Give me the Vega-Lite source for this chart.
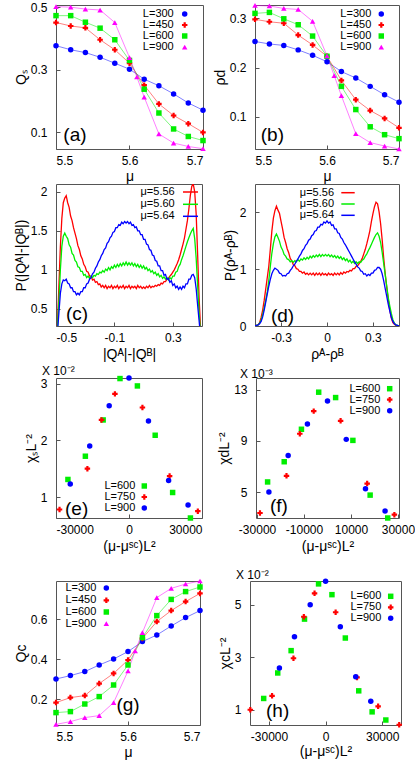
{
"$schema": "https://vega.github.io/schema/vega-lite/v6.json",
"padding": {"left": 13, "top": 0, "right": 0, "bottom": 0},
"background": "white",
"config": {
 "font": "Liberation Sans",
 "view": {"stroke": "#555", "strokeWidth": 1},
 "axis": {"grid": false, "domain": false, "tickSize": -4, "tickColor": "#555", "labelFontSize": 12, "labelColor": "#000", "titleFontSize": 14, "titleFontWeight": "normal", "titleColor": "#000", "labelFont": "Liberation Sans", "titleFont": "Liberation Sans", "labelExpr": "replace(datum.label, '−', '-')"},
 "axisX": {"labelPadding": 10, "titlePadding": 4},
 "axisY": {"labelPadding": 13, "titlePadding": 2},
 "text": {"font": "Liberation Sans", "color": "#000"},
 "title": {"font": "Liberation Sans", "fontWeight": "normal", "fontSize": 12, "anchor": "start", "frame": "group", "color": "#000"}
},
"datasets": {
 "one": [{"k": 1}],
 "qs": [
  {"x":5.50,"L":"L=300","v":0.377},{"x":5.52,"L":"L=300","v":0.364},{"x":5.54,"L":"L=300","v":0.355},{"x":5.56,"L":"L=300","v":0.340},{"x":5.58,"L":"L=300","v":0.321},{"x":5.60,"L":"L=300","v":0.302},{"x":5.62,"L":"L=300","v":0.270},{"x":5.64,"L":"L=300","v":0.249},{"x":5.66,"L":"L=300","v":0.223},{"x":5.68,"L":"L=300","v":0.194},{"x":5.70,"L":"L=300","v":0.171},
  {"x":5.50,"L":"L=450","v":0.451},{"x":5.52,"L":"L=450","v":0.440},{"x":5.54,"L":"L=450","v":0.434},{"x":5.56,"L":"L=450","v":0.396},{"x":5.58,"L":"L=450","v":0.364},{"x":5.60,"L":"L=450","v":0.321},{"x":5.62,"L":"L=450","v":0.251},{"x":5.64,"L":"L=450","v":0.191},{"x":5.66,"L":"L=450","v":0.154},{"x":5.68,"L":"L=450","v":0.128},{"x":5.70,"L":"L=450","v":0.100},
  {"x":5.50,"L":"L=600","v":0.473},{"x":5.52,"L":"L=600","v":0.473},{"x":5.54,"L":"L=600","v":0.452},{"x":5.56,"L":"L=600","v":0.433},{"x":5.58,"L":"L=600","v":0.396},{"x":5.60,"L":"L=600","v":0.330},{"x":5.62,"L":"L=600","v":0.238},{"x":5.64,"L":"L=600","v":0.162},{"x":5.66,"L":"L=600","v":0.111},{"x":5.68,"L":"L=600","v":0.087},{"x":5.70,"L":"L=600","v":0.074},
  {"x":5.50,"L":"L=900","v":0.502},{"x":5.52,"L":"L=900","v":0.500},{"x":5.54,"L":"L=900","v":0.494},{"x":5.56,"L":"L=900","v":0.491},{"x":5.58,"L":"L=900","v":0.451},{"x":5.60,"L":"L=900","v":0.339},{"x":5.61,"L":"L=900","v":0.277},{"x":5.62,"L":"L=900","v":0.213},{"x":5.64,"L":"L=900","v":0.095},{"x":5.66,"L":"L=900","v":0.066},{"x":5.68,"L":"L=900","v":0.055},{"x":5.70,"L":"L=900","v":0.048}
 ],
 "rhod": [
  {"x":5.50,"L":"L=300","v":0.253},{"x":5.52,"L":"L=300","v":0.248},{"x":5.54,"L":"L=300","v":0.245},{"x":5.56,"L":"L=300","v":0.236},{"x":5.58,"L":"L=300","v":0.225},{"x":5.60,"L":"L=300","v":0.212},{"x":5.62,"L":"L=300","v":0.192},{"x":5.64,"L":"L=300","v":0.179},{"x":5.66,"L":"L=300","v":0.162},{"x":5.68,"L":"L=300","v":0.145},{"x":5.70,"L":"L=300","v":0.130},
  {"x":5.50,"L":"L=450","v":0.298},{"x":5.52,"L":"L=450","v":0.293},{"x":5.54,"L":"L=450","v":0.290},{"x":5.56,"L":"L=450","v":0.266},{"x":5.58,"L":"L=450","v":0.246},{"x":5.60,"L":"L=450","v":0.223},{"x":5.62,"L":"L=450","v":0.174},{"x":5.64,"L":"L=450","v":0.135},{"x":5.66,"L":"L=450","v":0.113},{"x":5.68,"L":"L=450","v":0.097},{"x":5.70,"L":"L=450","v":0.078},
  {"x":5.50,"L":"L=600","v":0.310},{"x":5.52,"L":"L=600","v":0.312},{"x":5.54,"L":"L=600","v":0.299},{"x":5.56,"L":"L=600","v":0.287},{"x":5.58,"L":"L=600","v":0.264},{"x":5.60,"L":"L=600","v":0.223},{"x":5.62,"L":"L=600","v":0.162},{"x":5.64,"L":"L=600","v":0.115},{"x":5.66,"L":"L=600","v":0.080},{"x":5.68,"L":"L=600","v":0.064},{"x":5.70,"L":"L=600","v":0.056},
  {"x":5.50,"L":"L=900","v":0.326},{"x":5.52,"L":"L=900","v":0.325},{"x":5.54,"L":"L=900","v":0.320},{"x":5.56,"L":"L=900","v":0.318},{"x":5.58,"L":"L=900","v":0.294},{"x":5.60,"L":"L=900","v":0.224},{"x":5.61,"L":"L=900","v":0.184},{"x":5.62,"L":"L=900","v":0.143},{"x":5.64,"L":"L=900","v":0.066},{"x":5.66,"L":"L=900","v":0.048},{"x":5.68,"L":"L=900","v":0.041},{"x":5.70,"L":"L=900","v":0.035}
 ],
 "qc": [
  {"x":5.50,"L":"L=300","v":0.300},{"x":5.52,"L":"L=300","v":0.317},{"x":5.54,"L":"L=300","v":0.337},{"x":5.56,"L":"L=300","v":0.370},{"x":5.58,"L":"L=300","v":0.400},{"x":5.60,"L":"L=300","v":0.437},{"x":5.62,"L":"L=300","v":0.487},{"x":5.64,"L":"L=300","v":0.520},{"x":5.66,"L":"L=300","v":0.565},{"x":5.68,"L":"L=300","v":0.607},{"x":5.70,"L":"L=300","v":0.642},
  {"x":5.50,"L":"L=450","v":0.182},{"x":5.52,"L":"L=450","v":0.207},{"x":5.54,"L":"L=450","v":0.217},{"x":5.56,"L":"L=450","v":0.277},{"x":5.58,"L":"L=450","v":0.328},{"x":5.60,"L":"L=450","v":0.395},{"x":5.62,"L":"L=450","v":0.503},{"x":5.64,"L":"L=450","v":0.587},{"x":5.66,"L":"L=450","v":0.642},{"x":5.68,"L":"L=450","v":0.687},{"x":5.70,"L":"L=450","v":0.728},
  {"x":5.50,"L":"L=600","v":0.132},{"x":5.52,"L":"L=600","v":0.137},{"x":5.54,"L":"L=600","v":0.175},{"x":5.56,"L":"L=600","v":0.212},{"x":5.58,"L":"L=600","v":0.270},{"x":5.60,"L":"L=600","v":0.370},{"x":5.62,"L":"L=600","v":0.507},{"x":5.64,"L":"L=600","v":0.617},{"x":5.66,"L":"L=600","v":0.698},{"x":5.68,"L":"L=600","v":0.737},{"x":5.70,"L":"L=600","v":0.760},
  {"x":5.50,"L":"L=900","v":0.073},{"x":5.52,"L":"L=900","v":0.087},{"x":5.54,"L":"L=900","v":0.107},{"x":5.56,"L":"L=900","v":0.117},{"x":5.58,"L":"L=900","v":0.182},{"x":5.60,"L":"L=900","v":0.340},{"x":5.61,"L":"L=900","v":0.440},{"x":5.62,"L":"L=900","v":0.532},{"x":5.64,"L":"L=900","v":0.707},{"x":5.66,"L":"L=900","v":0.753},{"x":5.68,"L":"L=900","v":0.775},{"x":5.70,"L":"L=900","v":0.790}
 ],
 "chis": [
  {"x":-25100,"L":"L=600","v":1.31},{"x":-17930,"L":"L=600","v":1.72},{"x":-10620,"L":"L=600","v":2.36},{"x":-3700,"L":"L=600","v":3.09},{"x":3450,"L":"L=600","v":2.96},{"x":10760,"L":"L=600","v":2.09},{"x":17930,"L":"L=600","v":1.08},{"x":25240,"L":"L=600","v":0.63},
  {"x":-28550,"L":"L=750","v":0.78},{"x":-17100,"L":"L=750","v":1.50},{"x":-11310,"L":"L=750","v":2.36},{"x":-5790,"L":"L=750","v":2.82},{"x":5520,"L":"L=750","v":2.58},{"x":16690,"L":"L=750","v":1.37},{"x":28280,"L":"L=750","v":0.75},
  {"x":-24140,"L":"L=900","v":1.23},{"x":-16140,"L":"L=900","v":1.90},{"x":-8140,"L":"L=900","v":2.61},{"x":0,"L":"L=900","v":3.10},{"x":8000,"L":"L=900","v":2.34},{"x":16280,"L":"L=900","v":1.29},{"x":24280,"L":"L=900","v":0.86}
 ],
 "chid": [
  {"x":-25510,"L":"L=600","v":5.79},{"x":-18440,"L":"L=600","v":7.37},{"x":-11100,"L":"L=600","v":9.91},{"x":-3750,"L":"L=600","v":12.81},{"x":3460,"L":"L=600","v":12.39},{"x":10810,"L":"L=600","v":9.04},{"x":18160,"L":"L=600","v":4.76},{"x":25650,"L":"L=600","v":2.97},
  {"x":-28760,"L":"L=750","v":3.36},{"x":-17460,"L":"L=750","v":6.27},{"x":-11800,"L":"L=750","v":9.56},{"x":-5870,"L":"L=750","v":11.33},{"x":5580,"L":"L=750","v":10.57},{"x":16890,"L":"L=750","v":5.66},{"x":28480,"L":"L=750","v":3.23},
  {"x":-24950,"L":"L=900","v":5.0},{"x":-16750,"L":"L=900","v":7.85},{"x":-8550,"L":"L=900","v":10.33},{"x":0,"L":"L=900","v":12.12},{"x":7990,"L":"L=900","v":9.12},{"x":16180,"L":"L=900","v":5.26},{"x":24520,"L":"L=900","v":3.52}
 ],
 "chic": [
  {"x":-32840,"L":"L=600","v":1.43},{"x":-25390,"L":"L=600","v":2.40},{"x":-18290,"L":"L=600","v":3.25},{"x":-11180,"L":"L=600","v":4.45},{"x":-3730,"L":"L=600","v":5.79},{"x":3370,"L":"L=600","v":5.38},{"x":10470,"L":"L=600","v":3.73},{"x":17580,"L":"L=600","v":1.72},{"x":24680,"L":"L=600","v":0.92},{"x":31950,"L":"L=600","v":0.61},
  {"x":-39940,"L":"L=750","v":1.0},{"x":-28400,"L":"L=750","v":1.53},{"x":-17040,"L":"L=750","v":2.96},{"x":-11540,"L":"L=750","v":4.54},{"x":-5860,"L":"L=750","v":5.43},{"x":5330,"L":"L=750","v":4.71},{"x":16690,"L":"L=750","v":2.23},{"x":27870,"L":"L=750","v":1.13},{"x":39050,"L":"L=750","v":0.43},
  {"x":-24500,"L":"L=900","v":2.59},{"x":-16510,"L":"L=900","v":3.78},{"x":-8170,"L":"L=900","v":5.0},{"x":0,"L":"L=900","v":5.89},{"x":7810,"L":"L=900","v":4.16},{"x":15980,"L":"L=900","v":2.26},{"x":23970,"L":"L=900","v":1.32}
 ],
 "pq": [
  {"x":-0.5,"m":"μ=5.56","v":0},{"x":-0.49,"m":"μ=5.56","v":0.3},{"x":-0.48,"m":"μ=5.56","v":0.8},{"x":-0.47,"m":"μ=5.56","v":1.3},{"x":-0.46,"m":"μ=5.56","v":1.66},{"x":-0.45,"m":"μ=5.56","v":1.86},{"x":-0.44,"m":"μ=5.56","v":1.92},{"x":-0.43,"m":"μ=5.56","v":1.95},{"x":-0.42,"m":"μ=5.56","v":1.86},{"x":-0.41,"m":"μ=5.56","v":1.80},{"x":-0.4,"m":"μ=5.56","v":1.69},{"x":-0.39,"m":"μ=5.56","v":1.63},{"x":-0.38,"m":"μ=5.56","v":1.54},{"x":-0.37,"m":"μ=5.56","v":1.47},{"x":-0.36,"m":"μ=5.56","v":1.40},{"x":-0.35,"m":"μ=5.56","v":1.31},{"x":-0.34,"m":"μ=5.56","v":1.26},{"x":-0.33,"m":"μ=5.56","v":1.18},{"x":-0.32,"m":"μ=5.56","v":1.14},{"x":-0.31,"m":"μ=5.56","v":1.07},{"x":-0.3,"m":"μ=5.56","v":1.04},{"x":-0.29,"m":"μ=5.56","v":0.98},{"x":-0.28,"m":"μ=5.56","v":0.97},{"x":-0.27,"m":"μ=5.56","v":0.92},{"x":-0.26,"m":"μ=5.56","v":0.92},{"x":-0.25,"m":"μ=5.56","v":0.87},{"x":-0.24,"m":"μ=5.56","v":0.88},{"x":-0.23,"m":"μ=5.56","v":0.84},{"x":-0.22,"m":"μ=5.56","v":0.85},{"x":-0.21,"m":"μ=5.56","v":0.81},{"x":-0.2,"m":"μ=5.56","v":0.82},{"x":-0.19,"m":"μ=5.56","v":0.78},{"x":-0.18,"m":"μ=5.56","v":0.80},{"x":-0.17,"m":"μ=5.56","v":0.77},{"x":-0.16,"m":"μ=5.56","v":0.80},{"x":-0.15,"m":"μ=5.56","v":0.76},{"x":-0.14,"m":"μ=5.56","v":0.79},{"x":-0.13,"m":"μ=5.56","v":0.77},{"x":-0.12,"m":"μ=5.56","v":0.80},{"x":-0.11,"m":"μ=5.56","v":0.76},{"x":-0.1,"m":"μ=5.56","v":0.79},{"x":-0.09,"m":"μ=5.56","v":0.77},{"x":-0.08,"m":"μ=5.56","v":0.80},{"x":-0.07,"m":"μ=5.56","v":0.76},{"x":-0.06,"m":"μ=5.56","v":0.79},{"x":-0.05,"m":"μ=5.56","v":0.77},{"x":-0.04,"m":"μ=5.56","v":0.80},{"x":-0.03,"m":"μ=5.56","v":0.76},{"x":-0.02,"m":"μ=5.56","v":0.79},{"x":-0.01,"m":"μ=5.56","v":0.77},{"x":0,"m":"μ=5.56","v":0.80},{"x":0.01,"m":"μ=5.56","v":0.76},{"x":0.02,"m":"μ=5.56","v":0.79},{"x":0.03,"m":"μ=5.56","v":0.77},{"x":0.04,"m":"μ=5.56","v":0.79},{"x":0.05,"m":"μ=5.56","v":0.76},{"x":0.06,"m":"μ=5.56","v":0.80},{"x":0.07,"m":"μ=5.56","v":0.77},{"x":0.08,"m":"μ=5.56","v":0.79},{"x":0.09,"m":"μ=5.56","v":0.76},{"x":0.1,"m":"μ=5.56","v":0.78},{"x":0.11,"m":"μ=5.56","v":0.76},{"x":0.12,"m":"μ=5.56","v":0.79},{"x":0.13,"m":"μ=5.56","v":0.77},{"x":0.14,"m":"μ=5.56","v":0.80},{"x":0.15,"m":"μ=5.56","v":0.77},{"x":0.16,"m":"μ=5.56","v":0.79},{"x":0.17,"m":"μ=5.56","v":0.78},{"x":0.18,"m":"μ=5.56","v":0.80},{"x":0.19,"m":"μ=5.56","v":0.79},{"x":0.2,"m":"μ=5.56","v":0.81},{"x":0.21,"m":"μ=5.56","v":0.80},{"x":0.22,"m":"μ=5.56","v":0.83},{"x":0.23,"m":"μ=5.56","v":0.82},{"x":0.24,"m":"μ=5.56","v":0.85},{"x":0.25,"m":"μ=5.56","v":0.85},{"x":0.26,"m":"μ=5.56","v":0.88},{"x":0.27,"m":"μ=5.56","v":0.89},{"x":0.28,"m":"μ=5.56","v":0.92},{"x":0.29,"m":"μ=5.56","v":0.94},{"x":0.3,"m":"μ=5.56","v":0.97},{"x":0.31,"m":"μ=5.56","v":1.0},{"x":0.32,"m":"μ=5.56","v":1.04},{"x":0.33,"m":"μ=5.56","v":1.08},{"x":0.34,"m":"μ=5.56","v":1.13},{"x":0.35,"m":"μ=5.56","v":1.19},{"x":0.36,"m":"μ=5.56","v":1.26},{"x":0.37,"m":"μ=5.56","v":1.33},{"x":0.38,"m":"μ=5.56","v":1.41},{"x":0.39,"m":"μ=5.56","v":1.52},{"x":0.4,"m":"μ=5.56","v":1.63},{"x":0.41,"m":"μ=5.56","v":1.78},{"x":0.42,"m":"μ=5.56","v":1.95},{"x":0.43,"m":"μ=5.56","v":2.07},{"x":0.44,"m":"μ=5.56","v":2.1},{"x":0.45,"m":"μ=5.56","v":2.0},{"x":0.46,"m":"μ=5.56","v":1.72},{"x":0.47,"m":"μ=5.56","v":1.2},{"x":0.48,"m":"μ=5.56","v":0.65},{"x":0.49,"m":"μ=5.56","v":0.25},{"x":0.5,"m":"μ=5.56","v":0},
  {"x":-0.5,"m":"μ=5.60","v":0},{"x":-0.49,"m":"μ=5.60","v":0.25},{"x":-0.48,"m":"μ=5.60","v":0.6},{"x":-0.47,"m":"μ=5.60","v":1.0},{"x":-0.46,"m":"μ=5.60","v":1.3},{"x":-0.45,"m":"μ=5.60","v":1.43},{"x":-0.44,"m":"μ=5.60","v":1.47},{"x":-0.43,"m":"μ=5.60","v":1.43},{"x":-0.42,"m":"μ=5.60","v":1.40},{"x":-0.41,"m":"μ=5.60","v":1.32},{"x":-0.4,"m":"μ=5.60","v":1.29},{"x":-0.39,"m":"μ=5.60","v":1.21},{"x":-0.38,"m":"μ=5.60","v":1.19},{"x":-0.37,"m":"μ=5.60","v":1.12},{"x":-0.36,"m":"μ=5.60","v":1.10},{"x":-0.35,"m":"μ=5.60","v":1.04},{"x":-0.34,"m":"μ=5.60","v":1.03},{"x":-0.33,"m":"μ=5.60","v":0.98},{"x":-0.32,"m":"μ=5.60","v":0.98},{"x":-0.31,"m":"μ=5.60","v":0.93},{"x":-0.3,"m":"μ=5.60","v":0.94},{"x":-0.29,"m":"μ=5.60","v":0.90},{"x":-0.28,"m":"μ=5.60","v":0.92},{"x":-0.27,"m":"μ=5.60","v":0.89},{"x":-0.26,"m":"μ=5.60","v":0.92},{"x":-0.25,"m":"μ=5.60","v":0.90},{"x":-0.24,"m":"μ=5.60","v":0.93},{"x":-0.23,"m":"μ=5.60","v":0.92},{"x":-0.22,"m":"μ=5.60","v":0.95},{"x":-0.21,"m":"μ=5.60","v":0.94},{"x":-0.2,"m":"μ=5.60","v":0.97},{"x":-0.19,"m":"μ=5.60","v":0.96},{"x":-0.18,"m":"μ=5.60","v":0.99},{"x":-0.17,"m":"μ=5.60","v":0.97},{"x":-0.16,"m":"μ=5.60","v":1.01},{"x":-0.15,"m":"μ=5.60","v":0.99},{"x":-0.14,"m":"μ=5.60","v":1.03},{"x":-0.13,"m":"μ=5.60","v":1.00},{"x":-0.12,"m":"μ=5.60","v":1.04},{"x":-0.11,"m":"μ=5.60","v":1.02},{"x":-0.1,"m":"μ=5.60","v":1.06},{"x":-0.09,"m":"μ=5.60","v":1.03},{"x":-0.08,"m":"μ=5.60","v":1.07},{"x":-0.07,"m":"μ=5.60","v":1.04},{"x":-0.06,"m":"μ=5.60","v":1.08},{"x":-0.05,"m":"μ=5.60","v":1.05},{"x":-0.04,"m":"μ=5.60","v":1.09},{"x":-0.03,"m":"μ=5.60","v":1.06},{"x":-0.02,"m":"μ=5.60","v":1.10},{"x":-0.01,"m":"μ=5.60","v":1.06},{"x":0,"m":"μ=5.60","v":1.09},{"x":0.01,"m":"μ=5.60","v":1.06},{"x":0.02,"m":"μ=5.60","v":1.09},{"x":0.03,"m":"μ=5.60","v":1.05},{"x":0.04,"m":"μ=5.60","v":1.08},{"x":0.05,"m":"μ=5.60","v":1.04},{"x":0.06,"m":"μ=5.60","v":1.07},{"x":0.07,"m":"μ=5.60","v":1.03},{"x":0.08,"m":"μ=5.60","v":1.06},{"x":0.09,"m":"μ=5.60","v":1.02},{"x":0.1,"m":"μ=5.60","v":1.05},{"x":0.11,"m":"μ=5.60","v":1.01},{"x":0.12,"m":"μ=5.60","v":1.03},{"x":0.13,"m":"μ=5.60","v":0.99},{"x":0.14,"m":"μ=5.60","v":1.01},{"x":0.15,"m":"μ=5.60","v":0.97},{"x":0.16,"m":"μ=5.60","v":0.99},{"x":0.17,"m":"μ=5.60","v":0.95},{"x":0.18,"m":"μ=5.60","v":0.97},{"x":0.19,"m":"μ=5.60","v":0.93},{"x":0.2,"m":"μ=5.60","v":0.95},{"x":0.21,"m":"μ=5.60","v":0.91},{"x":0.22,"m":"μ=5.60","v":0.93},{"x":0.23,"m":"μ=5.60","v":0.89},{"x":0.24,"m":"μ=5.60","v":0.91},{"x":0.25,"m":"μ=5.60","v":0.88},{"x":0.26,"m":"μ=5.60","v":0.90},{"x":0.27,"m":"μ=5.60","v":0.87},{"x":0.28,"m":"μ=5.60","v":0.90},{"x":0.29,"m":"μ=5.60","v":0.88},{"x":0.3,"m":"μ=5.60","v":0.92},{"x":0.31,"m":"μ=5.60","v":0.92},{"x":0.32,"m":"μ=5.60","v":0.97},{"x":0.33,"m":"μ=5.60","v":0.98},{"x":0.34,"m":"μ=5.60","v":1.04},{"x":0.35,"m":"μ=5.60","v":1.07},{"x":0.36,"m":"μ=5.60","v":1.13},{"x":0.37,"m":"μ=5.60","v":1.18},{"x":0.38,"m":"μ=5.60","v":1.24},{"x":0.39,"m":"μ=5.60","v":1.30},{"x":0.4,"m":"μ=5.60","v":1.36},{"x":0.41,"m":"μ=5.60","v":1.41},{"x":0.42,"m":"μ=5.60","v":1.46},{"x":0.43,"m":"μ=5.60","v":1.50},{"x":0.44,"m":"μ=5.60","v":1.53},{"x":0.45,"m":"μ=5.60","v":1.40},{"x":0.46,"m":"μ=5.60","v":1.15},{"x":0.47,"m":"μ=5.60","v":0.8},{"x":0.48,"m":"μ=5.60","v":0.45},{"x":0.49,"m":"μ=5.60","v":0.2},{"x":0.5,"m":"μ=5.60","v":0},
  {"x":-0.5,"m":"μ=5.64","v":0},{"x":-0.49,"m":"μ=5.64","v":0.2},{"x":-0.48,"m":"μ=5.64","v":0.45},{"x":-0.47,"m":"μ=5.64","v":0.7},{"x":-0.46,"m":"μ=5.64","v":0.82},{"x":-0.45,"m":"μ=5.64","v":0.87},{"x":-0.44,"m":"μ=5.64","v":0.86},{"x":-0.43,"m":"μ=5.64","v":0.88},{"x":-0.42,"m":"μ=5.64","v":0.83},{"x":-0.41,"m":"μ=5.64","v":0.82},{"x":-0.4,"m":"μ=5.64","v":0.77},{"x":-0.39,"m":"μ=5.64","v":0.77},{"x":-0.38,"m":"μ=5.64","v":0.72},{"x":-0.37,"m":"μ=5.64","v":0.72},{"x":-0.36,"m":"μ=5.64","v":0.68},{"x":-0.35,"m":"μ=5.64","v":0.70},{"x":-0.34,"m":"μ=5.64","v":0.68},{"x":-0.33,"m":"μ=5.64","v":0.72},{"x":-0.32,"m":"μ=5.64","v":0.72},{"x":-0.31,"m":"μ=5.64","v":0.77},{"x":-0.3,"m":"μ=5.64","v":0.77},{"x":-0.29,"m":"μ=5.64","v":0.82},{"x":-0.28,"m":"μ=5.64","v":0.83},{"x":-0.27,"m":"μ=5.64","v":0.88},{"x":-0.26,"m":"μ=5.64","v":0.90},{"x":-0.25,"m":"μ=5.64","v":0.95},{"x":-0.24,"m":"μ=5.64","v":0.97},{"x":-0.23,"m":"μ=5.64","v":1.02},{"x":-0.22,"m":"μ=5.64","v":1.05},{"x":-0.21,"m":"μ=5.64","v":1.10},{"x":-0.2,"m":"μ=5.64","v":1.13},{"x":-0.19,"m":"μ=5.64","v":1.18},{"x":-0.18,"m":"μ=5.64","v":1.21},{"x":-0.17,"m":"μ=5.64","v":1.26},{"x":-0.16,"m":"μ=5.64","v":1.28},{"x":-0.15,"m":"μ=5.64","v":1.34},{"x":-0.14,"m":"μ=5.64","v":1.36},{"x":-0.13,"m":"μ=5.64","v":1.41},{"x":-0.12,"m":"μ=5.64","v":1.43},{"x":-0.11,"m":"μ=5.64","v":1.48},{"x":-0.1,"m":"μ=5.64","v":1.49},{"x":-0.09,"m":"μ=5.64","v":1.54},{"x":-0.08,"m":"μ=5.64","v":1.54},{"x":-0.07,"m":"μ=5.64","v":1.58},{"x":-0.06,"m":"μ=5.64","v":1.57},{"x":-0.05,"m":"μ=5.64","v":1.61},{"x":-0.04,"m":"μ=5.64","v":1.59},{"x":-0.03,"m":"μ=5.64","v":1.62},{"x":-0.02,"m":"μ=5.64","v":1.60},{"x":-0.01,"m":"μ=5.64","v":1.62},{"x":0,"m":"μ=5.64","v":1.59},{"x":0.01,"m":"μ=5.64","v":1.61},{"x":0.02,"m":"μ=5.64","v":1.57},{"x":0.03,"m":"μ=5.64","v":1.58},{"x":0.04,"m":"μ=5.64","v":1.54},{"x":0.05,"m":"μ=5.64","v":1.55},{"x":0.06,"m":"μ=5.64","v":1.50},{"x":0.07,"m":"μ=5.64","v":1.50},{"x":0.08,"m":"μ=5.64","v":1.45},{"x":0.09,"m":"μ=5.64","v":1.45},{"x":0.1,"m":"μ=5.64","v":1.39},{"x":0.11,"m":"μ=5.64","v":1.39},{"x":0.12,"m":"μ=5.64","v":1.33},{"x":0.13,"m":"μ=5.64","v":1.32},{"x":0.14,"m":"μ=5.64","v":1.26},{"x":0.15,"m":"μ=5.64","v":1.25},{"x":0.16,"m":"μ=5.64","v":1.19},{"x":0.17,"m":"μ=5.64","v":1.18},{"x":0.18,"m":"μ=5.64","v":1.12},{"x":0.19,"m":"μ=5.64","v":1.11},{"x":0.2,"m":"μ=5.64","v":1.05},{"x":0.21,"m":"μ=5.64","v":1.05},{"x":0.22,"m":"μ=5.64","v":0.99},{"x":0.23,"m":"μ=5.64","v":0.99},{"x":0.24,"m":"μ=5.64","v":0.93},{"x":0.25,"m":"μ=5.64","v":0.94},{"x":0.26,"m":"μ=5.64","v":0.88},{"x":0.27,"m":"μ=5.64","v":0.89},{"x":0.28,"m":"μ=5.64","v":0.84},{"x":0.29,"m":"μ=5.64","v":0.86},{"x":0.3,"m":"μ=5.64","v":0.80},{"x":0.31,"m":"μ=5.64","v":0.82},{"x":0.32,"m":"μ=5.64","v":0.77},{"x":0.33,"m":"μ=5.64","v":0.79},{"x":0.34,"m":"μ=5.64","v":0.75},{"x":0.35,"m":"μ=5.64","v":0.78},{"x":0.36,"m":"μ=5.64","v":0.75},{"x":0.37,"m":"μ=5.64","v":0.79},{"x":0.38,"m":"μ=5.64","v":0.77},{"x":0.39,"m":"μ=5.64","v":0.82},{"x":0.4,"m":"μ=5.64","v":0.82},{"x":0.41,"m":"μ=5.64","v":0.88},{"x":0.42,"m":"μ=5.64","v":0.88},{"x":0.43,"m":"μ=5.64","v":0.93},{"x":0.44,"m":"μ=5.64","v":0.94},{"x":0.45,"m":"μ=5.64","v":0.90},{"x":0.46,"m":"μ=5.64","v":0.76},{"x":0.47,"m":"μ=5.64","v":0.55},{"x":0.48,"m":"μ=5.64","v":0.35},{"x":0.49,"m":"μ=5.64","v":0.15},{"x":0.5,"m":"μ=5.64","v":0}
 ],
 "prho": [
  {"x":-0.47,"m":"μ=5.56","v":0},{"x":-0.46,"m":"μ=5.56","v":0.01},{"x":-0.45,"m":"μ=5.56","v":0.02},{"x":-0.44,"m":"μ=5.56","v":0.06},{"x":-0.43,"m":"μ=5.56","v":0.15},{"x":-0.42,"m":"μ=5.56","v":0.28},{"x":-0.41,"m":"μ=5.56","v":0.45},{"x":-0.4,"m":"μ=5.56","v":0.65},{"x":-0.39,"m":"μ=5.56","v":0.85},{"x":-0.38,"m":"μ=5.56","v":1.05},{"x":-0.37,"m":"μ=5.56","v":1.35},{"x":-0.36,"m":"μ=5.56","v":1.67},{"x":-0.35,"m":"μ=5.56","v":1.90},{"x":-0.34,"m":"μ=5.56","v":2.03},{"x":-0.33,"m":"μ=5.56","v":2.11},{"x":-0.32,"m":"μ=5.56","v":2.04},{"x":-0.31,"m":"μ=5.56","v":1.98},{"x":-0.3,"m":"μ=5.56","v":1.84},{"x":-0.29,"m":"μ=5.56","v":1.71},{"x":-0.28,"m":"μ=5.56","v":1.56},{"x":-0.27,"m":"μ=5.56","v":1.47},{"x":-0.26,"m":"μ=5.56","v":1.36},{"x":-0.25,"m":"μ=5.56","v":1.29},{"x":-0.24,"m":"μ=5.56","v":1.19},{"x":-0.23,"m":"μ=5.56","v":1.15},{"x":-0.22,"m":"μ=5.56","v":1.08},{"x":-0.21,"m":"μ=5.56","v":1.06},{"x":-0.2,"m":"μ=5.56","v":1.01},{"x":-0.19,"m":"μ=5.56","v":1.00},{"x":-0.18,"m":"μ=5.56","v":0.96},{"x":-0.17,"m":"μ=5.56","v":0.96},{"x":-0.16,"m":"μ=5.56","v":0.93},{"x":-0.15,"m":"μ=5.56","v":0.95},{"x":-0.14,"m":"μ=5.56","v":0.91},{"x":-0.13,"m":"μ=5.56","v":0.93},{"x":-0.12,"m":"μ=5.56","v":0.90},{"x":-0.11,"m":"μ=5.56","v":0.93},{"x":-0.1,"m":"μ=5.56","v":0.90},{"x":-0.09,"m":"μ=5.56","v":0.93},{"x":-0.08,"m":"μ=5.56","v":0.89},{"x":-0.07,"m":"μ=5.56","v":0.93},{"x":-0.06,"m":"μ=5.56","v":0.90},{"x":-0.05,"m":"μ=5.56","v":0.93},{"x":-0.04,"m":"μ=5.56","v":0.89},{"x":-0.03,"m":"μ=5.56","v":0.93},{"x":-0.02,"m":"μ=5.56","v":0.90},{"x":-0.01,"m":"μ=5.56","v":0.92},{"x":0,"m":"μ=5.56","v":0.89},{"x":0.01,"m":"μ=5.56","v":0.93},{"x":0.02,"m":"μ=5.56","v":0.90},{"x":0.03,"m":"μ=5.56","v":0.92},{"x":0.04,"m":"μ=5.56","v":0.89},{"x":0.05,"m":"μ=5.56","v":0.93},{"x":0.06,"m":"μ=5.56","v":0.90},{"x":0.07,"m":"μ=5.56","v":0.93},{"x":0.08,"m":"μ=5.56","v":0.90},{"x":0.09,"m":"μ=5.56","v":0.94},{"x":0.1,"m":"μ=5.56","v":0.91},{"x":0.11,"m":"μ=5.56","v":0.95},{"x":0.12,"m":"μ=5.56","v":0.93},{"x":0.13,"m":"μ=5.56","v":0.96},{"x":0.14,"m":"μ=5.56","v":0.95},{"x":0.15,"m":"μ=5.56","v":0.98},{"x":0.16,"m":"μ=5.56","v":0.97},{"x":0.17,"m":"μ=5.56","v":1.01},{"x":0.18,"m":"μ=5.56","v":1.01},{"x":0.19,"m":"μ=5.56","v":1.05},{"x":0.2,"m":"μ=5.56","v":1.06},{"x":0.21,"m":"μ=5.56","v":1.10},{"x":0.22,"m":"μ=5.56","v":1.14},{"x":0.23,"m":"μ=5.56","v":1.19},{"x":0.24,"m":"μ=5.56","v":1.27},{"x":0.25,"m":"μ=5.56","v":1.35},{"x":0.26,"m":"μ=5.56","v":1.45},{"x":0.27,"m":"μ=5.56","v":1.56},{"x":0.28,"m":"μ=5.56","v":1.68},{"x":0.29,"m":"μ=5.56","v":1.84},{"x":0.3,"m":"μ=5.56","v":1.98},{"x":0.31,"m":"μ=5.56","v":2.10},{"x":0.32,"m":"μ=5.56","v":2.18},{"x":0.33,"m":"μ=5.56","v":2.15},{"x":0.34,"m":"μ=5.56","v":2.01},{"x":0.35,"m":"μ=5.56","v":1.80},{"x":0.36,"m":"μ=5.56","v":1.52},{"x":0.37,"m":"μ=5.56","v":1.20},{"x":0.38,"m":"μ=5.56","v":0.92},{"x":0.39,"m":"μ=5.56","v":0.68},{"x":0.4,"m":"μ=5.56","v":0.46},{"x":0.41,"m":"μ=5.56","v":0.28},{"x":0.42,"m":"μ=5.56","v":0.14},{"x":0.43,"m":"μ=5.56","v":0.06},{"x":0.44,"m":"μ=5.56","v":0.03},{"x":0.45,"m":"μ=5.56","v":0.01},{"x":0.46,"m":"μ=5.56","v":0},{"x":0.47,"m":"μ=5.56","v":0},
  {"x":-0.47,"m":"μ=5.60","v":0},{"x":-0.46,"m":"μ=5.60","v":0.01},{"x":-0.45,"m":"μ=5.60","v":0.02},{"x":-0.44,"m":"μ=5.60","v":0.05},{"x":-0.43,"m":"μ=5.60","v":0.1},{"x":-0.42,"m":"μ=5.60","v":0.2},{"x":-0.41,"m":"μ=5.60","v":0.32},{"x":-0.4,"m":"μ=5.60","v":0.45},{"x":-0.39,"m":"μ=5.60","v":0.6},{"x":-0.38,"m":"μ=5.60","v":0.8},{"x":-0.37,"m":"μ=5.60","v":1.05},{"x":-0.36,"m":"μ=5.60","v":1.28},{"x":-0.35,"m":"μ=5.60","v":1.45},{"x":-0.34,"m":"μ=5.60","v":1.57},{"x":-0.33,"m":"μ=5.60","v":1.62},{"x":-0.32,"m":"μ=5.60","v":1.56},{"x":-0.31,"m":"μ=5.60","v":1.49},{"x":-0.3,"m":"μ=5.60","v":1.39},{"x":-0.29,"m":"μ=5.60","v":1.34},{"x":-0.28,"m":"μ=5.60","v":1.26},{"x":-0.27,"m":"μ=5.60","v":1.23},{"x":-0.26,"m":"μ=5.60","v":1.18},{"x":-0.25,"m":"μ=5.60","v":1.17},{"x":-0.24,"m":"μ=5.60","v":1.13},{"x":-0.23,"m":"μ=5.60","v":1.15},{"x":-0.22,"m":"μ=5.60","v":1.12},{"x":-0.21,"m":"μ=5.60","v":1.15},{"x":-0.2,"m":"μ=5.60","v":1.13},{"x":-0.19,"m":"μ=5.60","v":1.17},{"x":-0.18,"m":"μ=5.60","v":1.14},{"x":-0.17,"m":"μ=5.60","v":1.18},{"x":-0.16,"m":"μ=5.60","v":1.16},{"x":-0.15,"m":"μ=5.60","v":1.20},{"x":-0.14,"m":"μ=5.60","v":1.17},{"x":-0.13,"m":"μ=5.60","v":1.21},{"x":-0.12,"m":"μ=5.60","v":1.18},{"x":-0.11,"m":"μ=5.60","v":1.23},{"x":-0.1,"m":"μ=5.60","v":1.20},{"x":-0.09,"m":"μ=5.60","v":1.24},{"x":-0.08,"m":"μ=5.60","v":1.21},{"x":-0.07,"m":"μ=5.60","v":1.25},{"x":-0.06,"m":"μ=5.60","v":1.22},{"x":-0.05,"m":"μ=5.60","v":1.26},{"x":-0.04,"m":"μ=5.60","v":1.22},{"x":-0.03,"m":"μ=5.60","v":1.26},{"x":-0.02,"m":"μ=5.60","v":1.23},{"x":-0.01,"m":"μ=5.60","v":1.26},{"x":0,"m":"μ=5.60","v":1.23},{"x":0.01,"m":"μ=5.60","v":1.26},{"x":0.02,"m":"μ=5.60","v":1.22},{"x":0.03,"m":"μ=5.60","v":1.25},{"x":0.04,"m":"μ=5.60","v":1.21},{"x":0.05,"m":"μ=5.60","v":1.24},{"x":0.06,"m":"μ=5.60","v":1.20},{"x":0.07,"m":"μ=5.60","v":1.23},{"x":0.08,"m":"μ=5.60","v":1.19},{"x":0.09,"m":"μ=5.60","v":1.22},{"x":0.1,"m":"μ=5.60","v":1.17},{"x":0.11,"m":"μ=5.60","v":1.20},{"x":0.12,"m":"μ=5.60","v":1.15},{"x":0.13,"m":"μ=5.60","v":1.18},{"x":0.14,"m":"μ=5.60","v":1.13},{"x":0.15,"m":"μ=5.60","v":1.16},{"x":0.16,"m":"μ=5.60","v":1.11},{"x":0.17,"m":"μ=5.60","v":1.14},{"x":0.18,"m":"μ=5.60","v":1.10},{"x":0.19,"m":"μ=5.60","v":1.13},{"x":0.2,"m":"μ=5.60","v":1.10},{"x":0.21,"m":"μ=5.60","v":1.13},{"x":0.22,"m":"μ=5.60","v":1.12},{"x":0.23,"m":"μ=5.60","v":1.16},{"x":0.24,"m":"μ=5.60","v":1.18},{"x":0.25,"m":"μ=5.60","v":1.23},{"x":0.26,"m":"μ=5.60","v":1.27},{"x":0.27,"m":"μ=5.60","v":1.33},{"x":0.28,"m":"μ=5.60","v":1.38},{"x":0.29,"m":"μ=5.60","v":1.44},{"x":0.3,"m":"μ=5.60","v":1.50},{"x":0.31,"m":"μ=5.60","v":1.56},{"x":0.32,"m":"μ=5.60","v":1.61},{"x":0.33,"m":"μ=5.60","v":1.64},{"x":0.34,"m":"μ=5.60","v":1.58},{"x":0.35,"m":"μ=5.60","v":1.47},{"x":0.36,"m":"μ=5.60","v":1.30},{"x":0.37,"m":"μ=5.60","v":1.10},{"x":0.38,"m":"μ=5.60","v":0.90},{"x":0.39,"m":"μ=5.60","v":0.70},{"x":0.4,"m":"μ=5.60","v":0.50},{"x":0.41,"m":"μ=5.60","v":0.35},{"x":0.42,"m":"μ=5.60","v":0.22},{"x":0.43,"m":"μ=5.60","v":0.11},{"x":0.44,"m":"μ=5.60","v":0.05},{"x":0.45,"m":"μ=5.60","v":0.02},{"x":0.46,"m":"μ=5.60","v":0.01},{"x":0.47,"m":"μ=5.60","v":0},
  {"x":-0.47,"m":"μ=5.64","v":0},{"x":-0.46,"m":"μ=5.64","v":0.01},{"x":-0.45,"m":"μ=5.64","v":0.02},{"x":-0.44,"m":"μ=5.64","v":0.04},{"x":-0.43,"m":"μ=5.64","v":0.08},{"x":-0.42,"m":"μ=5.64","v":0.16},{"x":-0.41,"m":"μ=5.64","v":0.28},{"x":-0.4,"m":"μ=5.64","v":0.42},{"x":-0.39,"m":"μ=5.64","v":0.56},{"x":-0.38,"m":"μ=5.64","v":0.70},{"x":-0.37,"m":"μ=5.64","v":0.82},{"x":-0.36,"m":"μ=5.64","v":0.92},{"x":-0.35,"m":"μ=5.64","v":0.98},{"x":-0.34,"m":"μ=5.64","v":1.02},{"x":-0.33,"m":"μ=5.64","v":1.00},{"x":-0.32,"m":"μ=5.64","v":0.98},{"x":-0.31,"m":"μ=5.64","v":0.93},{"x":-0.3,"m":"μ=5.64","v":0.92},{"x":-0.29,"m":"μ=5.64","v":0.88},{"x":-0.28,"m":"μ=5.64","v":0.89},{"x":-0.27,"m":"μ=5.64","v":0.88},{"x":-0.26,"m":"μ=5.64","v":0.92},{"x":-0.25,"m":"μ=5.64","v":0.93},{"x":-0.24,"m":"μ=5.64","v":0.98},{"x":-0.23,"m":"μ=5.64","v":1.01},{"x":-0.22,"m":"μ=5.64","v":1.06},{"x":-0.21,"m":"μ=5.64","v":1.09},{"x":-0.2,"m":"μ=5.64","v":1.14},{"x":-0.19,"m":"μ=5.64","v":1.18},{"x":-0.18,"m":"μ=5.64","v":1.23},{"x":-0.17,"m":"μ=5.64","v":1.27},{"x":-0.16,"m":"μ=5.64","v":1.33},{"x":-0.15,"m":"μ=5.64","v":1.36},{"x":-0.14,"m":"μ=5.64","v":1.42},{"x":-0.13,"m":"μ=5.64","v":1.45},{"x":-0.12,"m":"μ=5.64","v":1.51},{"x":-0.11,"m":"μ=5.64","v":1.53},{"x":-0.1,"m":"μ=5.64","v":1.59},{"x":-0.09,"m":"μ=5.64","v":1.61},{"x":-0.08,"m":"μ=5.64","v":1.67},{"x":-0.07,"m":"μ=5.64","v":1.68},{"x":-0.06,"m":"μ=5.64","v":1.74},{"x":-0.05,"m":"μ=5.64","v":1.74},{"x":-0.04,"m":"μ=5.64","v":1.79},{"x":-0.03,"m":"μ=5.64","v":1.78},{"x":-0.02,"m":"μ=5.64","v":1.83},{"x":-0.01,"m":"μ=5.64","v":1.81},{"x":0,"m":"μ=5.64","v":1.85},{"x":0.01,"m":"μ=5.64","v":1.81},{"x":0.02,"m":"μ=5.64","v":1.83},{"x":0.03,"m":"μ=5.64","v":1.77},{"x":0.04,"m":"μ=5.64","v":1.78},{"x":0.05,"m":"μ=5.64","v":1.71},{"x":0.06,"m":"μ=5.64","v":1.71},{"x":0.07,"m":"μ=5.64","v":1.64},{"x":0.08,"m":"μ=5.64","v":1.63},{"x":0.09,"m":"μ=5.64","v":1.56},{"x":0.1,"m":"μ=5.64","v":1.53},{"x":0.11,"m":"μ=5.64","v":1.47},{"x":0.12,"m":"μ=5.64","v":1.43},{"x":0.13,"m":"μ=5.64","v":1.38},{"x":0.14,"m":"μ=5.64","v":1.33},{"x":0.15,"m":"μ=5.64","v":1.28},{"x":0.16,"m":"μ=5.64","v":1.23},{"x":0.17,"m":"μ=5.64","v":1.18},{"x":0.18,"m":"μ=5.64","v":1.13},{"x":0.19,"m":"μ=5.64","v":1.09},{"x":0.2,"m":"μ=5.64","v":1.04},{"x":0.21,"m":"μ=5.64","v":1.02},{"x":0.22,"m":"μ=5.64","v":0.97},{"x":0.23,"m":"μ=5.64","v":0.96},{"x":0.24,"m":"μ=5.64","v":0.91},{"x":0.25,"m":"μ=5.64","v":0.92},{"x":0.26,"m":"μ=5.64","v":0.88},{"x":0.27,"m":"μ=5.64","v":0.91},{"x":0.28,"m":"μ=5.64","v":0.89},{"x":0.29,"m":"μ=5.64","v":0.93},{"x":0.3,"m":"μ=5.64","v":0.93},{"x":0.31,"m":"μ=5.64","v":0.98},{"x":0.32,"m":"μ=5.64","v":0.99},{"x":0.33,"m":"μ=5.64","v":1.03},{"x":0.34,"m":"μ=5.64","v":1.03},{"x":0.35,"m":"μ=5.64","v":1.00},{"x":0.36,"m":"μ=5.64","v":0.92},{"x":0.37,"m":"μ=5.64","v":0.80},{"x":0.38,"m":"μ=5.64","v":0.66},{"x":0.39,"m":"μ=5.64","v":0.52},{"x":0.4,"m":"μ=5.64","v":0.38},{"x":0.41,"m":"μ=5.64","v":0.26},{"x":0.42,"m":"μ=5.64","v":0.15},{"x":0.43,"m":"μ=5.64","v":0.08},{"x":0.44,"m":"μ=5.64","v":0.04},{"x":0.45,"m":"μ=5.64","v":0.02},{"x":0.46,"m":"μ=5.64","v":0.01},{"x":0.47,"m":"μ=5.64","v":0}
 ]
},
"spacing": -2,
"resolve": {"scale": {"color": "independent", "shape": "independent"}},
"vconcat": [
 {"hconcat": [
  {"width": 147, "height": 144,
   "layer": [
    {"data": {"name": "qs"}, "mark": {"type": "line", "strokeWidth": 1, "opacity": 0.5}, "encoding": {
      "x": {"field": "x", "type": "quantitative", "scale": {"domain": [5.5, 5.7], "nice": false, "zero": false}, "axis": {"values": [5.5, 5.6, 5.7], "format": "~g", "title": "μ", "titlePadding": 3}},
      "y": {"field": "v", "type": "quantitative", "scale": {"domain": [0.047, 0.507], "nice": false, "zero": false}, "axis": {"values": [0.1, 0.2, 0.3, 0.4, 0.5], "format": "~g", "title": "Qₛ"}},
      "color": {"field": "L", "type": "nominal", "scale": {"domain": ["L=300", "L=450", "L=600", "L=900"], "range": ["#0000ff", "#ff0000", "#00ee00", "#ff00ff"]}, "legend": null}}},
    {"data": {"name": "qs"}, "mark": {"type": "point", "filled": true, "size": 30, "opacity": 1}, "encoding": {
      "x": {"field": "x", "type": "quantitative"},
      "y": {"field": "v", "type": "quantitative"},
      "color": {"field": "L", "type": "nominal", "legend": null},
      "shape": {"field": "L", "type": "nominal", "scale": {"domain": ["L=300", "L=450", "L=600", "L=900"], "range": ["circle", "cross", "square", "triangle-up"]}, "legend": null}}},
    {"data": {"name": "one"}, "mark": {"type": "text", "fontSize": 19, "align": "left", "baseline": "middle", "text": "(a)"}, "encoding": {"x": {"datum": 5.51, "type": "quantitative"}, "y": {"datum": 0.092, "type": "quantitative"}}},
    {"data": {"name": "one"}, "mark": {"type": "text", "fontSize": 11, "align": "right", "baseline": "middle", "text": "L=300"}, "encoding": {"x": {"datum": 5.6602, "type": "quantitative"}, "y": {"datum": 0.4783, "type": "quantitative"}}},
    {"data": {"name": "one"}, "mark": {"type": "text", "fontSize": 11, "align": "right", "baseline": "middle", "text": "L=450"}, "encoding": {"x": {"datum": 5.6602, "type": "quantitative"}, "y": {"datum": 0.4431, "type": "quantitative"}}},
    {"data": {"name": "one"}, "mark": {"type": "text", "fontSize": 11, "align": "right", "baseline": "middle", "text": "L=600"}, "encoding": {"x": {"datum": 5.6602, "type": "quantitative"}, "y": {"datum": 0.408, "type": "quantitative"}}},
    {"data": {"name": "one"}, "mark": {"type": "text", "fontSize": 11, "align": "right", "baseline": "middle", "text": "L=900"}, "encoding": {"x": {"datum": 5.6602, "type": "quantitative"}, "y": {"datum": 0.3728, "type": "quantitative"}}},
    {"data": {"name": "one"}, "mark": {"type": "point", "filled": true, "size": 30, "opacity": 1, "shape": "circle", "color": "#0000ff"}, "encoding": {"x": {"datum": 5.6751, "type": "quantitative"}, "y": {"datum": 0.4783, "type": "quantitative"}}},
    {"data": {"name": "one"}, "mark": {"type": "point", "filled": true, "size": 30, "opacity": 1, "shape": "cross", "color": "#ff0000"}, "encoding": {"x": {"datum": 5.6751, "type": "quantitative"}, "y": {"datum": 0.4431, "type": "quantitative"}}},
    {"data": {"name": "one"}, "mark": {"type": "point", "filled": true, "size": 30, "opacity": 1, "shape": "square", "color": "#00ee00"}, "encoding": {"x": {"datum": 5.6751, "type": "quantitative"}, "y": {"datum": 0.408, "type": "quantitative"}}},
    {"data": {"name": "one"}, "mark": {"type": "point", "filled": true, "size": 30, "opacity": 1, "shape": "triangle-up", "color": "#ff00ff"}, "encoding": {"x": {"datum": 5.6751, "type": "quantitative"}, "y": {"datum": 0.3728, "type": "quantitative"}}}
   ]},
  {"width": 144, "height": 144,
   "layer": [
    {"data": {"name": "rhod"}, "mark": {"type": "line", "strokeWidth": 1, "opacity": 0.5}, "encoding": {
      "x": {"field": "x", "type": "quantitative", "scale": {"domain": [5.5, 5.7], "nice": false, "zero": false}, "axis": {"values": [5.5, 5.6, 5.7], "format": "~g", "title": "μ", "titlePadding": 3}},
      "y": {"field": "v", "type": "quantitative", "scale": {"domain": [0.035, 0.327], "nice": false, "zero": false}, "axis": {"values": [0.1, 0.2, 0.3], "format": "~g", "title": "ρd"}},
      "color": {"field": "L", "type": "nominal", "scale": {"domain": ["L=300", "L=450", "L=600", "L=900"], "range": ["#0000ff", "#ff0000", "#00ee00", "#ff00ff"]}, "legend": null}}},
    {"data": {"name": "rhod"}, "mark": {"type": "point", "filled": true, "size": 30, "opacity": 1}, "encoding": {
      "x": {"field": "x", "type": "quantitative"},
      "y": {"field": "v", "type": "quantitative"},
      "color": {"field": "L", "type": "nominal", "legend": null},
      "shape": {"field": "L", "type": "nominal", "scale": {"domain": ["L=300", "L=450", "L=600", "L=900"], "range": ["circle", "cross", "square", "triangle-up"]}, "legend": null}}},
    {"data": {"name": "one"}, "mark": {"type": "text", "fontSize": 19, "align": "left", "baseline": "middle", "text": "(b)"}, "encoding": {"x": {"datum": 5.508, "type": "quantitative"}, "y": {"datum": 0.063, "type": "quantitative"}}},
    {"data": {"name": "one"}, "mark": {"type": "text", "fontSize": 11, "align": "right", "baseline": "middle", "text": "L=300"}, "encoding": {"x": {"datum": 5.6615, "type": "quantitative"}, "y": {"datum": 0.3087, "type": "quantitative"}}},
    {"data": {"name": "one"}, "mark": {"type": "text", "fontSize": 11, "align": "right", "baseline": "middle", "text": "L=450"}, "encoding": {"x": {"datum": 5.6615, "type": "quantitative"}, "y": {"datum": 0.2864, "type": "quantitative"}}},
    {"data": {"name": "one"}, "mark": {"type": "text", "fontSize": 11, "align": "right", "baseline": "middle", "text": "L=600"}, "encoding": {"x": {"datum": 5.6615, "type": "quantitative"}, "y": {"datum": 0.2641, "type": "quantitative"}}},
    {"data": {"name": "one"}, "mark": {"type": "text", "fontSize": 11, "align": "right", "baseline": "middle", "text": "L=900"}, "encoding": {"x": {"datum": 5.6615, "type": "quantitative"}, "y": {"datum": 0.2418, "type": "quantitative"}}},
    {"data": {"name": "one"}, "mark": {"type": "point", "filled": true, "size": 30, "opacity": 1, "shape": "circle", "color": "#0000ff"}, "encoding": {"x": {"datum": 5.6754, "type": "quantitative"}, "y": {"datum": 0.3087, "type": "quantitative"}}},
    {"data": {"name": "one"}, "mark": {"type": "point", "filled": true, "size": 30, "opacity": 1, "shape": "cross", "color": "#ff0000"}, "encoding": {"x": {"datum": 5.6754, "type": "quantitative"}, "y": {"datum": 0.2864, "type": "quantitative"}}},
    {"data": {"name": "one"}, "mark": {"type": "point", "filled": true, "size": 30, "opacity": 1, "shape": "square", "color": "#00ee00"}, "encoding": {"x": {"datum": 5.6754, "type": "quantitative"}, "y": {"datum": 0.2641, "type": "quantitative"}}},
    {"data": {"name": "one"}, "mark": {"type": "point", "filled": true, "size": 30, "opacity": 1, "shape": "triangle-up", "color": "#ff00ff"}, "encoding": {"x": {"datum": 5.6754, "type": "quantitative"}, "y": {"datum": 0.2418, "type": "quantitative"}}}
   ]}
 ], "spacing": 52, "bounds": "flush", "resolve": {"scale": {"color": "independent", "shape": "independent"}}},
 {"spacing": 2,
  "resolve": {"scale": {"color": "independent", "shape": "independent"}},
  "vconcat": [
  {"hconcat": [
   {"width": 146, "height": 142,
    "layer": [
     {"data": {"name": "pq"}, "mark": {"type": "line", "strokeWidth": 1.3, "clip": true}, "encoding": {
       "x": {"field": "x", "type": "quantitative", "scale": {"domain": [-0.5, 0.5], "nice": false}, "axis": {"values": [-0.5, -0.3, -0.1, 0.1, 0.3, 0.5], "format": "~g", "title": "|Qᴬ|-|Qᴮ|"}},
       "y": {"field": "v", "type": "quantitative", "scale": {"domain": [0.28, 2.1], "nice": false, "zero": false}, "axis": {"values": [0.5, 1, 1.5, 2], "format": "~g", "title": "P(|Qᴬ|-|Qᴮ|)"}},
       "color": {"field": "m", "type": "nominal", "scale": {"domain": ["μ=5.56", "μ=5.60", "μ=5.64"], "range": ["#ff0000", "#00ee00", "#0000ff"]}, "legend": null}}},
     {"data": {"name": "one"}, "mark": {"type": "text", "fontSize": 19, "align": "left", "baseline": "middle", "text": "(c)"}, "encoding": {"x": {"datum": -0.432, "type": "quantitative"}, "y": {"datum": 0.435, "type": "quantitative"}}},
     {"data": {"name": "one"}, "mark": {"type": "text", "fontSize": 11, "align": "right", "baseline": "middle", "text": "μ=5.56"}, "encoding": {"x": {"datum": 0.313, "type": "quantitative"}, "y": {"datum": 1.9975, "type": "quantitative"}}},
     {"data": {"name": "one"}, "mark": {"type": "text", "fontSize": 11, "align": "right", "baseline": "middle", "text": "μ=5.60"}, "encoding": {"x": {"datum": 0.313, "type": "quantitative"}, "y": {"datum": 1.8398, "type": "quantitative"}}},
     {"data": {"name": "one"}, "mark": {"type": "text", "fontSize": 11, "align": "right", "baseline": "middle", "text": "μ=5.64"}, "encoding": {"x": {"datum": 0.313, "type": "quantitative"}, "y": {"datum": 1.686, "type": "quantitative"}}},
     {"data": {"name": "one"}, "mark": {"type": "rule", "strokeWidth": 1.5, "color": "#ff0000"}, "encoding": {"x": {"datum": 0.3699, "type": "quantitative"}, "x2": {"datum": 0.4726}, "y": {"datum": 1.9975, "type": "quantitative"}}},
     {"data": {"name": "one"}, "mark": {"type": "rule", "strokeWidth": 1.5, "color": "#00ee00"}, "encoding": {"x": {"datum": 0.3699, "type": "quantitative"}, "x2": {"datum": 0.4726}, "y": {"datum": 1.8398, "type": "quantitative"}}},
     {"data": {"name": "one"}, "mark": {"type": "rule", "strokeWidth": 1.5, "color": "#0000ff"}, "encoding": {"x": {"datum": 0.3699, "type": "quantitative"}, "x2": {"datum": 0.4726}, "y": {"datum": 1.686, "type": "quantitative"}}}
    ]},
   {"width": 144, "height": 142,
    "layer": [
     {"data": {"name": "prho"}, "mark": {"type": "line", "strokeWidth": 1.3, "clip": true}, "encoding": {
       "x": {"field": "x", "type": "quantitative", "scale": {"domain": [-0.47, 0.47], "nice": false}, "axis": {"values": [-0.3, 0, 0.3], "format": "~g", "title": "ρᴬ-ρᴮ"}},
       "y": {"field": "v", "type": "quantitative", "scale": {"domain": [0, 2.5], "nice": false}, "axis": {"values": [0, 0.5, 1, 1.5, 2, 2.5], "format": "~g", "title": "P(ρᴬ-ρᴮ)"}},
       "color": {"field": "m", "type": "nominal", "scale": {"domain": ["μ=5.56", "μ=5.60", "μ=5.64"], "range": ["#ff0000", "#00ee00", "#0000ff"]}, "legend": null}}},
     {"data": {"name": "one"}, "mark": {"type": "text", "fontSize": 19, "align": "left", "baseline": "middle", "text": "(d)"}, "encoding": {"x": {"datum": -0.366, "type": "quantitative"}, "y": {"datum": 0.18, "type": "quantitative"}}},
     {"data": {"name": "one"}, "mark": {"type": "text", "fontSize": 11, "align": "right", "baseline": "middle", "text": "μ=5.56"}, "encoding": {"x": {"datum": 0.0457, "type": "quantitative"}, "y": {"datum": 2.3468, "type": "quantitative"}}},
     {"data": {"name": "one"}, "mark": {"type": "text", "fontSize": 11, "align": "right", "baseline": "middle", "text": "μ=5.60"}, "encoding": {"x": {"datum": 0.0457, "type": "quantitative"}, "y": {"datum": 2.1479, "type": "quantitative"}}},
     {"data": {"name": "one"}, "mark": {"type": "text", "fontSize": 11, "align": "right", "baseline": "middle", "text": "μ=5.64"}, "encoding": {"x": {"datum": 0.0457, "type": "quantitative"}, "y": {"datum": 1.9489, "type": "quantitative"}}},
     {"data": {"name": "one"}, "mark": {"type": "rule", "strokeWidth": 1.5, "color": "#ff0000"}, "encoding": {"x": {"datum": 0.0934, "type": "quantitative"}, "x2": {"datum": 0.1808}, "y": {"datum": 2.3468, "type": "quantitative"}}},
     {"data": {"name": "one"}, "mark": {"type": "rule", "strokeWidth": 1.5, "color": "#00ee00"}, "encoding": {"x": {"datum": 0.0934, "type": "quantitative"}, "x2": {"datum": 0.1808}, "y": {"datum": 2.1479, "type": "quantitative"}}},
     {"data": {"name": "one"}, "mark": {"type": "rule", "strokeWidth": 1.5, "color": "#0000ff"}, "encoding": {"x": {"datum": 0.0934, "type": "quantitative"}, "x2": {"datum": 0.1808}, "y": {"datum": 1.9489, "type": "quantitative"}}}
    ]}
  ], "spacing": 53, "bounds": "flush", "resolve": {"scale": {"color": "independent", "shape": "independent"}}},
  {"spacing": 14,
   "resolve": {"scale": {"color": "independent", "shape": "independent"}},
   "vconcat": [
   {"hconcat": [
    {"width": 146, "height": 140, "title": {"text": "X 10⁻²", "dx": -14, "offset": -3},
     "layer": [
      {"data": {"name": "chis"}, "mark": {"type": "point", "filled": true, "size": 30, "opacity": 1}, "encoding": {
        "x": {"field": "x", "type": "quantitative", "scale": {"domain": [-30000, 30000], "nice": false}, "axis": {"values": [-30000, 0, 30000], "format": "d", "title": "(μ-μˢᶜ)L²"}},
        "y": {"field": "v", "type": "quantitative", "scale": {"domain": [0.63, 3.1], "nice": false, "zero": false}, "axis": {"values": [1, 2, 3], "format": "d", "title": "χₛL⁻²"}},
        "color": {"field": "L", "type": "nominal", "scale": {"domain": ["L=600", "L=750", "L=900"], "range": ["#00ee00", "#ff0000", "#0000ff"]}, "legend": null},
        "shape": {"field": "L", "type": "nominal", "scale": {"domain": ["L=600", "L=750", "L=900"], "range": ["square", "cross", "circle"]}, "legend": null}}},
      {"data": {"name": "one"}, "mark": {"type": "text", "fontSize": 19, "align": "left", "baseline": "middle", "text": "(e)"}, "encoding": {"x": {"datum": -26300, "type": "quantitative"}, "y": {"datum": 0.79, "type": "quantitative"}}},
      {"data": {"name": "one"}, "mark": {"type": "text", "fontSize": 11, "align": "right", "baseline": "middle", "text": "L=600"}, "encoding": {"x": {"datum": 2603, "type": "quantitative"}, "y": {"datum": 1.1946, "type": "quantitative"}}},
      {"data": {"name": "one"}, "mark": {"type": "text", "fontSize": 11, "align": "right", "baseline": "middle", "text": "L=750"}, "encoding": {"x": {"datum": 2603, "type": "quantitative"}, "y": {"datum": 1.0005, "type": "quantitative"}}},
      {"data": {"name": "one"}, "mark": {"type": "text", "fontSize": 11, "align": "right", "baseline": "middle", "text": "L=900"}, "encoding": {"x": {"datum": 2603, "type": "quantitative"}, "y": {"datum": 0.8064, "type": "quantitative"}}},
      {"data": {"name": "one"}, "mark": {"type": "point", "filled": true, "size": 30, "opacity": 1, "shape": "square", "color": "#00ee00"}, "encoding": {"x": {"datum": 6288, "type": "quantitative"}, "y": {"datum": 1.1946, "type": "quantitative"}}},
      {"data": {"name": "one"}, "mark": {"type": "point", "filled": true, "size": 30, "opacity": 1, "shape": "cross", "color": "#ff0000"}, "encoding": {"x": {"datum": 6288, "type": "quantitative"}, "y": {"datum": 1.0005, "type": "quantitative"}}},
      {"data": {"name": "one"}, "mark": {"type": "point", "filled": true, "size": 30, "opacity": 1, "shape": "circle", "color": "#0000ff"}, "encoding": {"x": {"datum": 6288, "type": "quantitative"}, "y": {"datum": 0.8064, "type": "quantitative"}}}
     ]},
    {"width": 143, "height": 140, "title": {"text": "X 10⁻³", "dx": -16, "offset": -3},
     "layer": [
      {"data": {"name": "chid"}, "mark": {"type": "point", "filled": true, "size": 30, "opacity": 1}, "encoding": {
        "x": {"field": "x", "type": "quantitative", "scale": {"domain": [-30450, 30450], "nice": false}, "axis": {"values": [-30000, -10000, 10000, 30000], "format": "d", "title": "(μ-μˢᶜ)L²"}},
        "y": {"field": "v", "type": "quantitative", "scale": {"domain": [2.97, 13.92], "nice": false, "zero": false}, "axis": {"values": [5, 9, 13], "format": "d", "title": "χdL⁻²"}},
        "color": {"field": "L", "type": "nominal", "scale": {"domain": ["L=600", "L=750", "L=900"], "range": ["#00ee00", "#ff0000", "#0000ff"]}, "legend": null},
        "shape": {"field": "L", "type": "nominal", "scale": {"domain": ["L=600", "L=750", "L=900"], "range": ["square", "cross", "circle"]}, "legend": null}}},
      {"data": {"name": "one"}, "mark": {"type": "text", "fontSize": 19, "align": "left", "baseline": "middle", "text": "(f)"}, "encoding": {"x": {"datum": -24490, "type": "quantitative"}, "y": {"datum": 3.92, "type": "quantitative"}}},
      {"data": {"name": "one"}, "mark": {"type": "text", "fontSize": 11, "align": "right", "baseline": "middle", "text": "L=600"}, "encoding": {"x": {"datum": 22486, "type": "quantitative"}, "y": {"datum": 13.083, "type": "quantitative"}}},
      {"data": {"name": "one"}, "mark": {"type": "text", "fontSize": 11, "align": "right", "baseline": "middle", "text": "L=750"}, "encoding": {"x": {"datum": 22486, "type": "quantitative"}, "y": {"datum": 12.223, "type": "quantitative"}}},
      {"data": {"name": "one"}, "mark": {"type": "text", "fontSize": 11, "align": "right", "baseline": "middle", "text": "L=900"}, "encoding": {"x": {"datum": 22486, "type": "quantitative"}, "y": {"datum": 11.362, "type": "quantitative"}}},
      {"data": {"name": "one"}, "mark": {"type": "point", "filled": true, "size": 30, "opacity": 1, "shape": "square", "color": "#00ee00"}, "encoding": {"x": {"datum": 26489, "type": "quantitative"}, "y": {"datum": 13.083, "type": "quantitative"}}},
      {"data": {"name": "one"}, "mark": {"type": "point", "filled": true, "size": 30, "opacity": 1, "shape": "cross", "color": "#ff0000"}, "encoding": {"x": {"datum": 26489, "type": "quantitative"}, "y": {"datum": 12.223, "type": "quantitative"}}},
      {"data": {"name": "one"}, "mark": {"type": "point", "filled": true, "size": 30, "opacity": 1, "shape": "circle", "color": "#0000ff"}, "encoding": {"x": {"datum": 26489, "type": "quantitative"}, "y": {"datum": 11.362, "type": "quantitative"}}}
     ]}
   ], "spacing": 54, "bounds": "flush", "resolve": {"scale": {"color": "independent", "shape": "independent"}}},
   {"hconcat": [
    {"width": 144, "height": 144,
     "layer": [
      {"data": {"name": "qc"}, "mark": {"type": "line", "strokeWidth": 1, "opacity": 0.5}, "encoding": {
        "x": {"field": "x", "type": "quantitative", "scale": {"domain": [5.5, 5.7], "nice": false, "zero": false}, "axis": {"values": [5.5, 5.6, 5.7], "format": "~g", "title": "μ", "titlePadding": 3}},
        "y": {"field": "v", "type": "quantitative", "scale": {"domain": [0.07, 0.79], "nice": false, "zero": false}, "axis": {"values": [0.2, 0.4, 0.6], "format": "~g", "title": "Qc"}},
        "color": {"field": "L", "type": "nominal", "scale": {"domain": ["L=300", "L=450", "L=600", "L=900"], "range": ["#0000ff", "#ff0000", "#00ee00", "#ff00ff"]}, "legend": null}}},
      {"data": {"name": "qc"}, "mark": {"type": "point", "filled": true, "size": 30, "opacity": 1}, "encoding": {
        "x": {"field": "x", "type": "quantitative"},
        "y": {"field": "v", "type": "quantitative"},
        "color": {"field": "L", "type": "nominal", "legend": null},
        "shape": {"field": "L", "type": "nominal", "scale": {"domain": ["L=300", "L=450", "L=600", "L=900"], "range": ["circle", "cross", "square", "triangle-up"]}, "legend": null}}},
      {"data": {"name": "one"}, "mark": {"type": "text", "fontSize": 19, "align": "left", "baseline": "middle", "text": "(g)"}, "encoding": {"x": {"datum": 5.584, "type": "quantitative"}, "y": {"datum": 0.17, "type": "quantitative"}}},
      {"data": {"name": "one"}, "mark": {"type": "text", "fontSize": 11, "align": "right", "baseline": "middle", "text": "L=300"}, "encoding": {"x": {"datum": 5.556, "type": "quantitative"}, "y": {"datum": 0.755, "type": "quantitative"}}},
      {"data": {"name": "one"}, "mark": {"type": "text", "fontSize": 11, "align": "right", "baseline": "middle", "text": "L=450"}, "encoding": {"x": {"datum": 5.556, "type": "quantitative"}, "y": {"datum": 0.6935, "type": "quantitative"}}},
      {"data": {"name": "one"}, "mark": {"type": "text", "fontSize": 11, "align": "right", "baseline": "middle", "text": "L=600"}, "encoding": {"x": {"datum": 5.556, "type": "quantitative"}, "y": {"datum": 0.635, "type": "quantitative"}}},
      {"data": {"name": "one"}, "mark": {"type": "text", "fontSize": 11, "align": "right", "baseline": "middle", "text": "L=900"}, "encoding": {"x": {"datum": 5.556, "type": "quantitative"}, "y": {"datum": 0.5765, "type": "quantitative"}}},
      {"data": {"name": "one"}, "mark": {"type": "point", "filled": true, "size": 30, "opacity": 1, "shape": "circle", "color": "#0000ff"}, "encoding": {"x": {"datum": 5.5699, "type": "quantitative"}, "y": {"datum": 0.755, "type": "quantitative"}}},
      {"data": {"name": "one"}, "mark": {"type": "point", "filled": true, "size": 30, "opacity": 1, "shape": "cross", "color": "#ff0000"}, "encoding": {"x": {"datum": 5.5699, "type": "quantitative"}, "y": {"datum": 0.6935, "type": "quantitative"}}},
      {"data": {"name": "one"}, "mark": {"type": "point", "filled": true, "size": 30, "opacity": 1, "shape": "square", "color": "#00ee00"}, "encoding": {"x": {"datum": 5.5699, "type": "quantitative"}, "y": {"datum": 0.635, "type": "quantitative"}}},
      {"data": {"name": "one"}, "mark": {"type": "point", "filled": true, "size": 30, "opacity": 1, "shape": "triangle-up", "color": "#ff00ff"}, "encoding": {"x": {"datum": 5.5699, "type": "quantitative"}, "y": {"datum": 0.5765, "type": "quantitative"}}}
     ]},
    {"width": 151, "height": 144, "title": {"text": "X 10⁻²", "dx": -14, "offset": -3},
     "layer": [
      {"data": {"name": "chic"}, "mark": {"type": "point", "filled": true, "size": 30, "opacity": 1}, "encoding": {
        "x": {"field": "x", "type": "quantitative", "scale": {"domain": [-40100, 40000], "nice": false}, "axis": {"values": [-30000, 0, 30000], "format": "d", "title": "(μ-μˢᶜ)L²", "titlePadding": 2}},
        "y": {"field": "v", "type": "quantitative", "scale": {"domain": [0.42, 5.9], "nice": false, "zero": false}, "axis": {"values": [1, 3, 5], "format": "d", "title": "χcL⁻²"}},
        "color": {"field": "L", "type": "nominal", "scale": {"domain": ["L=600", "L=750", "L=900"], "range": ["#00ee00", "#ff0000", "#0000ff"]}, "legend": null},
        "shape": {"field": "L", "type": "nominal", "scale": {"domain": ["L=600", "L=750", "L=900"], "range": ["square", "cross", "circle"]}, "legend": null}}},
      {"data": {"name": "one"}, "mark": {"type": "text", "fontSize": 19, "align": "left", "baseline": "middle", "text": "(h)"}, "encoding": {"x": {"datum": -31600, "type": "quantitative"}, "y": {"datum": 0.95, "type": "quantitative"}}},
      {"data": {"name": "one"}, "mark": {"type": "text", "fontSize": 11, "align": "right", "baseline": "middle", "text": "L=600"}, "encoding": {"x": {"datum": 29550, "type": "quantitative"}, "y": {"datum": 5.3177, "type": "quantitative"}}},
      {"data": {"name": "one"}, "mark": {"type": "text", "fontSize": 11, "align": "right", "baseline": "middle", "text": "L=750"}, "encoding": {"x": {"datum": 29550, "type": "quantitative"}, "y": {"datum": 4.8991, "type": "quantitative"}}},
      {"data": {"name": "one"}, "mark": {"type": "text", "fontSize": 11, "align": "right", "baseline": "middle", "text": "L=900"}, "encoding": {"x": {"datum": 29550, "type": "quantitative"}, "y": {"datum": 4.4805, "type": "quantitative"}}},
      {"data": {"name": "one"}, "mark": {"type": "point", "filled": true, "size": 30, "opacity": 1, "shape": "square", "color": "#00ee00"}, "encoding": {"x": {"datum": 34536, "type": "quantitative"}, "y": {"datum": 5.3177, "type": "quantitative"}}},
      {"data": {"name": "one"}, "mark": {"type": "point", "filled": true, "size": 30, "opacity": 1, "shape": "cross", "color": "#ff0000"}, "encoding": {"x": {"datum": 34536, "type": "quantitative"}, "y": {"datum": 4.8991, "type": "quantitative"}}},
      {"data": {"name": "one"}, "mark": {"type": "point", "filled": true, "size": 30, "opacity": 1, "shape": "circle", "color": "#0000ff"}, "encoding": {"x": {"datum": 34536, "type": "quantitative"}, "y": {"datum": 4.4805, "type": "quantitative"}}}
     ]}
   ], "spacing": 50, "bounds": "flush", "resolve": {"scale": {"color": "independent", "shape": "independent"}}}
  ]}
 ]}
]
}
